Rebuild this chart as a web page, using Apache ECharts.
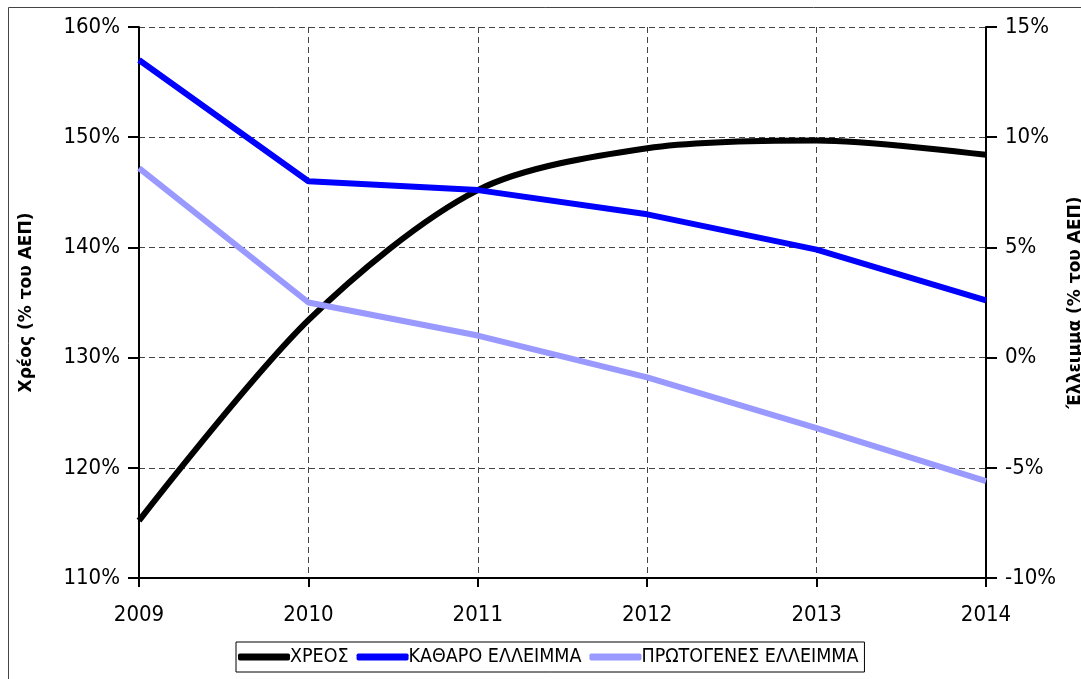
<!DOCTYPE html>
<html>
<head>
<meta charset="utf-8">
<script src="https://cdn.jsdelivr.net/npm/echarts@6/dist/echarts.min.js"></script>
<style>
  html, body { margin: 0; padding: 0; background: #fff; }
  #main { width: 1081px; height: 679px; }
</style>
</head>
<body>
<div id="main"></div>
<script>
  // values
  var years = ['2009', '2010', '2011', '2012', '2013', '2014'];
  var debt = [115.2, 133.4, 145.2, 149.0, 149.7, 148.4];
  var netDeficit = [13.5, 8.0, 7.6, 6.5, 4.9, 2.6];
  var primaryDeficit = [8.6, 2.5, 1.0, -0.9, -3.2, -5.6];

  var tickFont = 'DejaVu Sans Condensed';
  var legendFont = '"Liberation Sans Narrow", "DejaVu Sans Condensed"';

  var gridLine = { show: true, lineStyle: { color: '#444', type: [6, 4], width: 1 } };

  var myChart = echarts.init(document.getElementById('main'));
  myChart.setOption({
    animation: false,
    graphic: [{
      type: 'rect',
      left: 6,
      top: 5,
      silent: true,
      z: -10,
      shape: { width: 1120, height: 720 },
      style: { fill: 'none', stroke: '#444', lineWidth: 1 }
    }],
    grid: { left: 139, right: 95, top: 27, bottom: 101, containLabel: false, outerBoundsMode: 'none' },
    legend: {
      left: 236,
      top: 642,
      padding: [5, 6, 5, 2],
      itemGap: 8,
      itemWidth: 52,
      itemHeight: 7,
      icon: 'roundRect',
      borderColor: '#000',
      borderWidth: 1,
      textStyle: { fontFamily: legendFont, fontSize: 19.5, color: '#000', padding: [0, 0, 0, -5] },
      data: ['ΧΡΕΟΣ', 'ΚΑΘΑΡΟ ΕΛΛΕΙΜΜΑ', 'ΠΡΩΤΟΓΕΝΕΣ ΕΛΛΕΙΜΜΑ']
    },
    xAxis: {
      type: 'category',
      data: years,
      boundaryGap: false,
      axisLine: { onZero: false, lineStyle: { color: '#000', width: 2 } },
      axisTick: { show: true, inside: false, length: 9, lineStyle: { color: '#000', width: 2 } },
      axisLabel: { margin: 26, fontFamily: tickFont, fontSize: 22, color: '#000' },
      splitLine: gridLine
    },
    yAxis: [{
      type: 'value',
      min: 110,
      max: 160,
      interval: 10,
      name: 'Χρέος (% του ΑΕΠ)',
      nameLocation: 'middle',
      nameRotate: 90,
      nameGap: 104,
      nameTextStyle: { fontFamily: 'DejaVu Sans', fontWeight: 'bold', fontSize: 17, color: '#000' },
      axisLine: { show: true, onZero: false, lineStyle: { color: '#000', width: 2 } },
      axisTick: { show: true, length: 11, lineStyle: { color: '#000', width: 2 } },
      axisLabel: { margin: 19, formatter: '{value}%', fontFamily: tickFont, fontSize: 22, color: '#000' },
      splitLine: gridLine
    }, {
      type: 'value',
      min: -10,
      max: 15,
      interval: 5,
      position: 'right',
      name: 'Έλλειμμα (% του ΑΕΠ)',
      nameLocation: 'middle',
      nameRotate: 90,
      nameGap: 80,
      nameTextStyle: { fontFamily: 'DejaVu Sans', fontWeight: 'bold', fontSize: 17, color: '#000' },
      axisLine: { show: true, onZero: false, lineStyle: { color: '#000', width: 2 } },
      axisTick: { show: true, length: 11, lineStyle: { color: '#000', width: 2 } },
      axisLabel: { margin: 19, formatter: '{value}%', fontFamily: tickFont, fontSize: 22, color: '#000' },
      splitLine: { show: false }
    }],
    series: [{
      name: 'ΧΡΕΟΣ',
      type: 'line',
      yAxisIndex: 0,
      data: debt,
      smooth: 0.3,
      showSymbol: false,
      symbol: 'none',
      itemStyle: { color: '#000' },
      lineStyle: { color: '#000', width: 6 }
    }, {
      name: 'ΚΑΘΑΡΟ ΕΛΛΕΙΜΜΑ',
      type: 'line',
      yAxisIndex: 1,
      data: netDeficit,
      showSymbol: false,
      symbol: 'none',
      itemStyle: { color: '#0000ff' },
      lineStyle: { color: '#0000ff', width: 6 }
    }, {
      name: 'ΠΡΩΤΟΓΕΝΕΣ ΕΛΛΕΙΜΜΑ',
      type: 'line',
      yAxisIndex: 1,
      data: primaryDeficit,
      showSymbol: false,
      symbol: 'none',
      itemStyle: { color: '#9999ff' },
      lineStyle: { color: '#9999ff', width: 6 }
    }]
  });
</script>
</body>
</html>
